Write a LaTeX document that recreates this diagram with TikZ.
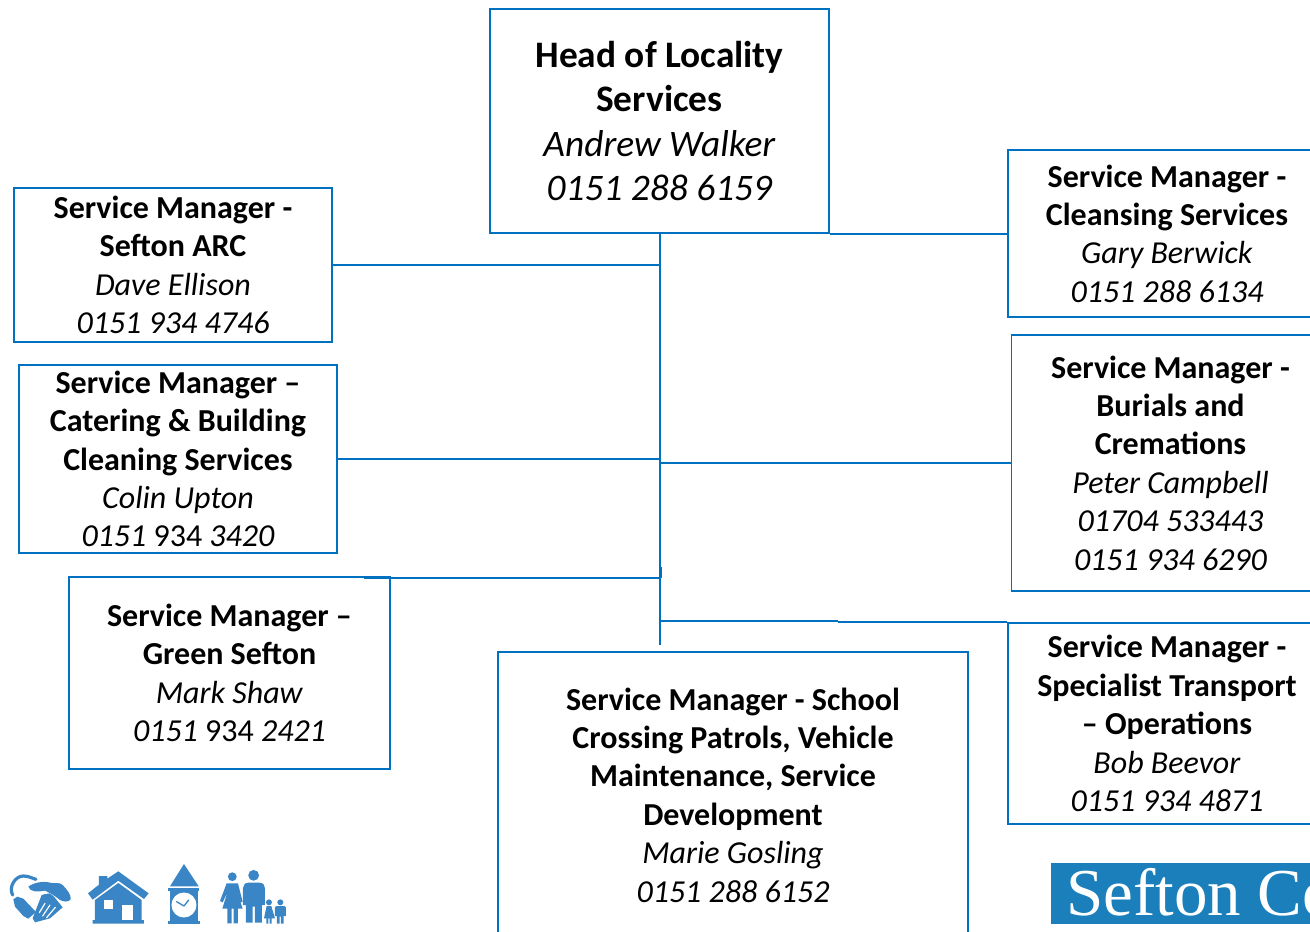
\documentclass[tikz,border=0pt]{standalone}
\usepackage{fontspec}
\setmainfont{Carlito}
\newfontfamily\logofont{Liberation Serif}
\definecolor{boxblue}{HTML}{0070C0}
\definecolor{iconblue}{HTML}{3A85C5}
\definecolor{logoblue}{HTML}{1A7FBB}
\tikzset{
  person/.style={draw=boxblue,line width=1.9pt,align=center,inner sep=0pt,
    font=\fontsize{32}{38.4}\selectfont},
  headbox/.style={person,font=\fontsize{37.4}{44.5}\selectfont},
  link/.style={draw=boxblue,line width=2pt},
  icon/.style={fill=iconblue,draw=none},
  gap/.style={fill=white,draw=none},
  iconline/.style={draw=iconblue,line cap=round,line join=round},
  gapline/.style={draw=white,line cap=round}
}
\newcommand{\who}[1]{\textit{#1}}
\begin{document}
\begin{tikzpicture}[x=1pt,y=-1pt]
\useasboundingbox (0,0) rectangle (1310,932);
\clip (0,0) rectangle (1310,932);
\node[headbox,minimum width=339pt,minimum height=224pt] (head) at (659.5,121)
  {\textbf{Head of Locality}\\\textbf{Services}\\\who{Andrew Walker}\\\who{0151 288 6159}};
\node[person,minimum width=318pt,minimum height=154pt] (arc) at (173,265)
  {\textbf{Service Manager -}\\\textbf{Sefton ARC}\\\who{Dave Ellison}\\\who{0151 934 4746}};
\node[person,minimum width=318pt,minimum height=188pt] (cater) at (178,459)
  {\textbf{Service Manager –}\\\textbf{Catering \& Building}\\\textbf{Cleaning Services}\\\who{Colin Upton}\\\who{0151} 934 \who{3420}};
\node[person,minimum width=321pt,minimum height=192pt] (green) at (229.5,673)
  {\textbf{Service Manager –}\\\textbf{Green Sefton}\\\who{Mark Shaw}\\\who{0151} 934 \who{2421}};
\node[person,minimum width=470pt,minimum height=286pt] (school) at (733,795)
  {\textbf{Service Manager - School}\\\textbf{Crossing Patrols, Vehicle}\\\textbf{Maintenance, Service}\\\textbf{Development}\\\who{Marie Gosling}\\\who{0151 288 6152}};
\node[person,minimum width=318pt,minimum height=167pt] (cleans) at (1167,233.5)
  {\textbf{Service Manager -}\\\textbf{Cleansing Services}\\\who{Gary Berwick}\\\who{0151 288 6134}};
\node[person,minimum width=318pt,minimum height=256pt] (burial) at (1170.5,463)
  {\textbf{Service Manager -}\\\textbf{Burials and}\\\textbf{Cremations}\\\who{Peter Campbell}\\\who{01704 533443}\\\who{0151 934 6290}};
\node[person,minimum width=318pt,minimum height=201pt] (trans) at (1167,723.5)
  {\textbf{Service Manager -}\\\textbf{Specialist Transport}\\\textbf{– Operations}\\\who{Bob Beevor}\\\who{0151 934 4871}};
% connectors
\coordinate (trunkend) at (660,645);
\draw[link] (trunkend |- head.south) -- (trunkend);
\draw[link] (head.south east) -- (cleans.west |- head.south east);
\draw[link] (arc.east) -- (arc.east -| trunkend);
\draw[link] (cater.east) -- (cater.east -| trunkend);
\draw[link] (burial.west) -- (burial.west -| trunkend);
\coordinate (greenjoin) at (364,578);
\draw[link] (greenjoin) -- (greenjoin -| trunkend);
\coordinate (greenkink) at (661,567);
\draw[link] (greenkink) -- (greenkink |- greenjoin);
\coordinate (transjoin) at (838,621);
\draw[link] (trunkend |- transjoin) -- (transjoin);
\coordinate (transstep) at (838,622);
\draw[link] (transstep) -- (trans.west |- transstep);
% logo
\node[fill=logoblue,minimum width=270pt,minimum height=61pt,inner sep=0pt,anchor=north west] (logo) at (1051,863) {};
\node[text=white,font=\logofont\fontsize{67}{67}\selectfont,anchor=base west,inner sep=0pt] (logotext) at (1066,915) {Sefton Co};
% icons
\begin{scope}[shift={(0,850)},x=.3333pt,y=-.3333pt]
 % handshake
 \draw[iconline,line width=3.2pt] (38,135) .. controls (25,112) and (45,78) .. (70,78) .. controls (85,78) and (95,84) .. (108,88);
 \path[icon] (125,135) -- (150,125) -- (188,172) -- (150,205) -- (105,217) -- (98,205) -- cycle;
 \draw[gapline,line width=1.2pt] (135,160) -- (118,188) (150,165) -- (128,198) (166,172) -- (140,203);
 \draw[gapline,line width=1.2pt] (105,135) -- (150,128) -- (195,160);
 \path[icon] (85,110) .. controls (100,98) and (130,92) .. (150,98) .. controls (165,102) and (178,95) .. (188,105) .. controls (200,118) and (215,135) .. (212,148) .. controls (205,158) and (190,155) .. (180,150) .. controls (165,138) and (150,128) .. (135,122) .. controls (115,125) and (90,128) .. (85,110) -- cycle;
 \path[icon] (40,148) -- (52,140) -- (70,146) -- (108,186) -- (85,206) -- (70,198) -- (45,170) -- cycle;
 % house
 \path[icon] (264,130) -- (297,104) -- (297,78) -- (322,78) -- (322,86) -- (355,64) -- (446,130) -- (432,147) -- (355,92) -- (278,149) -- cycle;
 \path[icon] (285,150) -- (355,99) -- (425,150) -- (425,210) -- (432,210) -- (432,221) -- (278,221) -- (278,210) -- (285,210) -- cycle;
 \path[gap] (312,150) rectangle (338,177);
 \path[gap] (366,165) rectangle (399,210);
 % clock
 \path[icon] (552,42) -- (596,109) -- (510,109) -- cycle;
 \path[icon] (505,113) rectangle (598,122);
 \path[icon] (510,122) rectangle (593,212);
 \path[icon] (505,212) rectangle (600,221);
 \path[gap] (552,165) circle[radius=12.5pt];
 \draw[iconline,line width=1.3pt] (530,155) -- (552,168) -- (566,150);
 % woman
 \path[icon] (697,80) circle[radius=4.4pt];
 \path[icon] (680,100) -- (714,100) -- (728,155) -- (722,157) -- (712,128) -- (728,176) -- (714,176) -- (714,220) -- (701,220) -- (701,176) -- (695,176) -- (695,220) -- (682,220) -- (682,176) -- (667,176) -- (682,128) -- (668,157) -- (660,153) -- cycle;
 % man
 \path[icon] (761,76) circle[radius=5.4pt];
 \path[icon] (745,98) -- (778,98) .. controls (790,98) and (795,106) .. (795,115) -- (795,165) -- (786,165) -- (786,218) -- (765,218) -- (765,170) -- (758,170) -- (758,218) -- (738,218) -- (738,165) -- (729,165) -- (729,115) .. controls (729,106) and (735,98) .. (745,98) -- cycle;
 % children
 \path[icon] (807,157) circle[radius=3pt];
 \path[icon] (800,168) -- (814,168) -- (825,205) -- (815,205) -- (815,221) -- (809,221) -- (809,205) -- (805,205) -- (805,221) -- (799,221) -- (799,205) -- (792,205) -- cycle;
 \path[icon] (841,157) circle[radius=3pt];
 \path[icon] (829,168) -- (853,168) -- (858,172) -- (858,198) -- (851,198) -- (851,221) -- (843,221) -- (843,200) -- (839,200) -- (839,221) -- (831,221) -- (831,198) -- (825,198) -- (825,172) -- cycle;
\end{scope}
\end{tikzpicture}
\end{document}
